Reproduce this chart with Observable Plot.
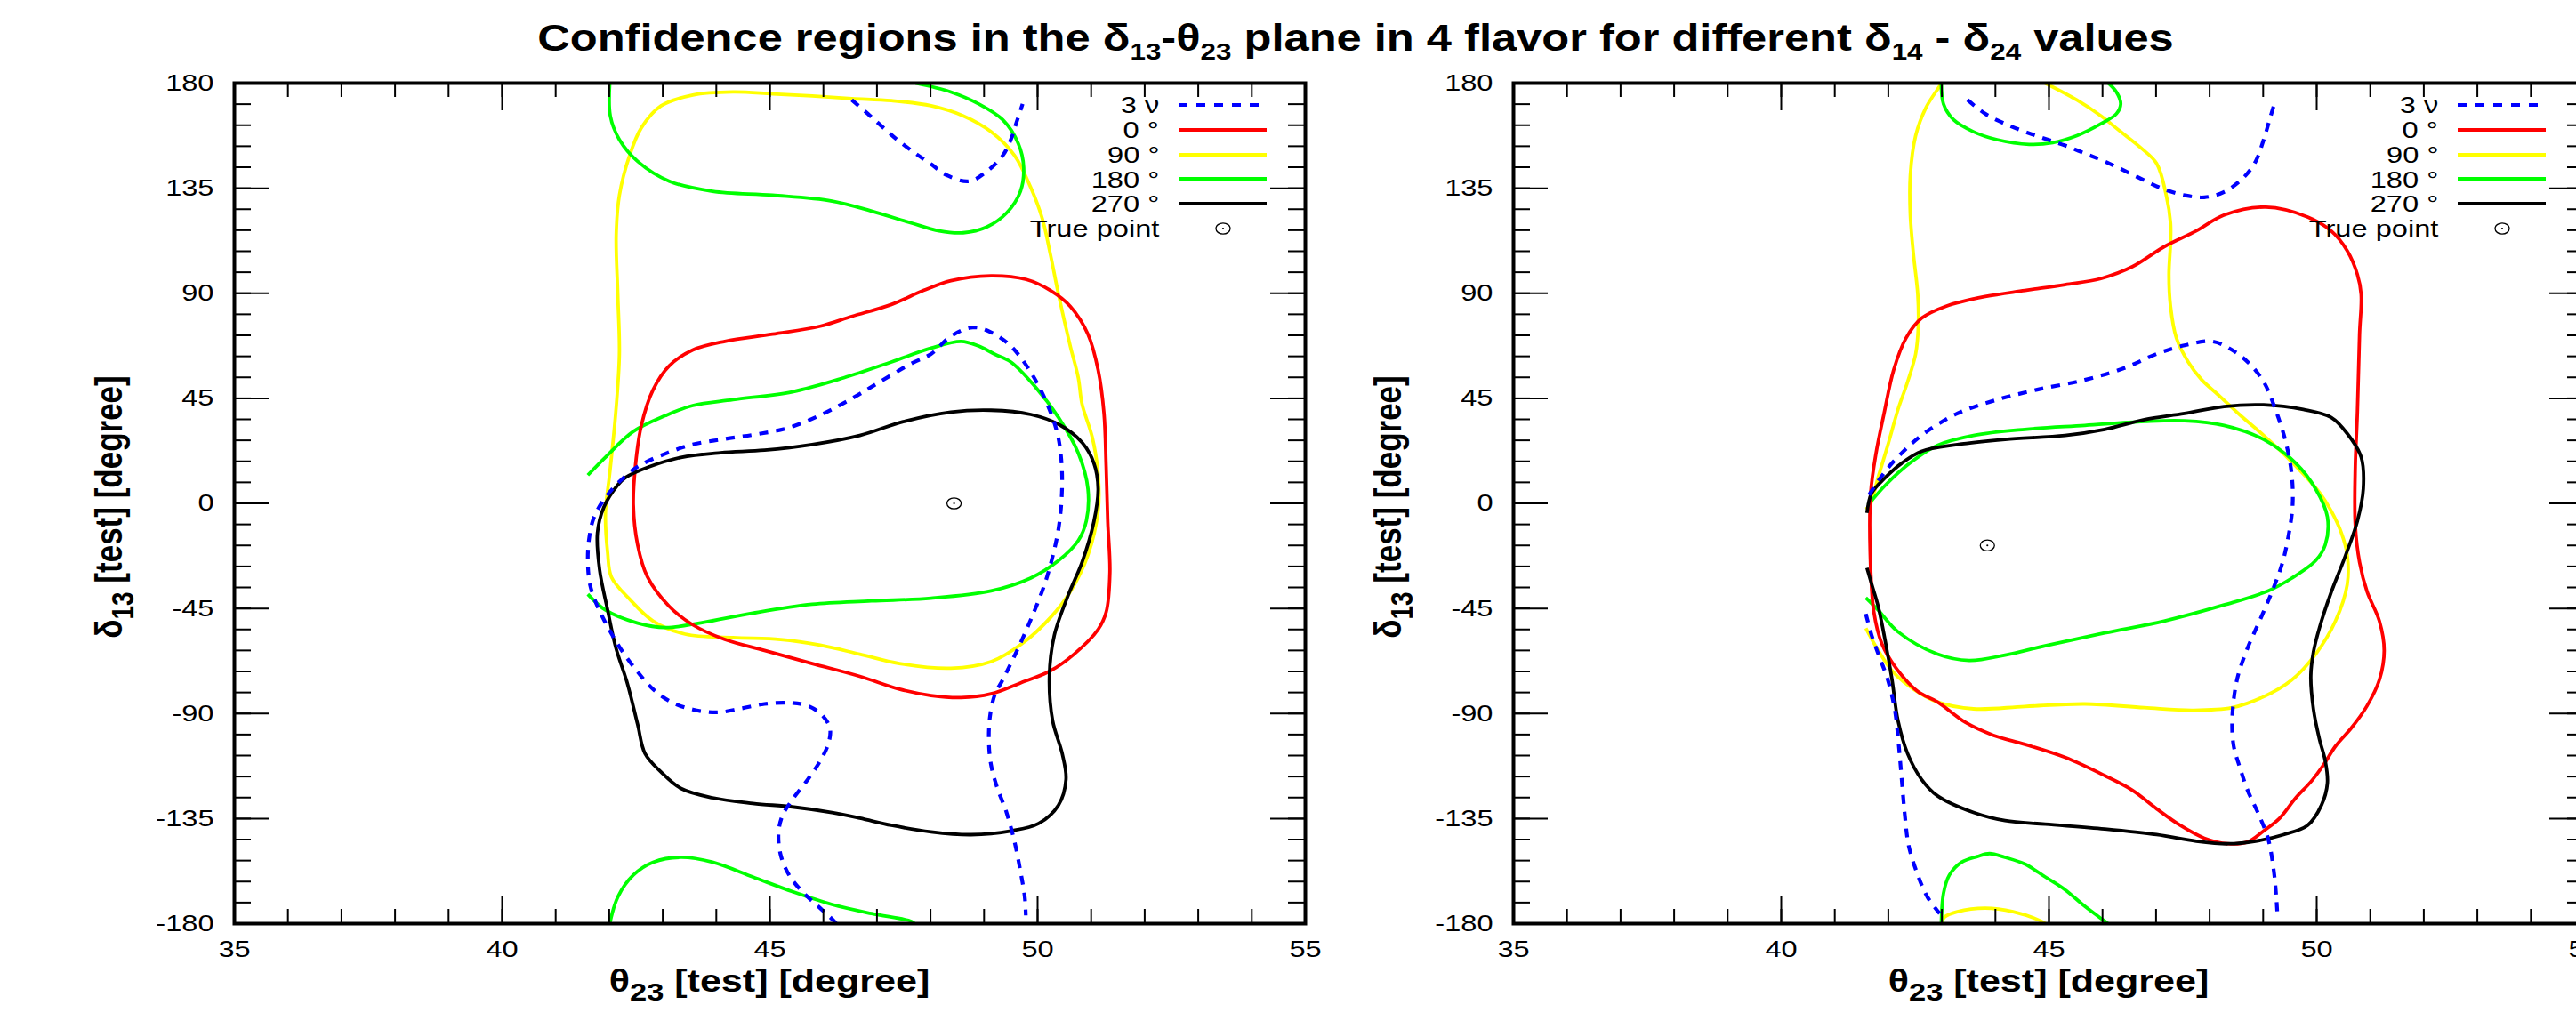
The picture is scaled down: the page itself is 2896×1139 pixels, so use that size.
<!DOCTYPE html>
<html>
<head>
<meta charset="utf-8">
<script src="https://cdn.jsdelivr.net/npm/d3@7"></script>
<script src="https://cdn.jsdelivr.net/npm/@observablehq/plot@0.6"></script>
<style>
  html, body { margin: 0; padding: 0; background: #fff; }
  body { width: 2896px; height: 1139px; overflow: hidden; position: relative; font-family: "Liberation Sans", Arial, Helvetica, sans-serif; color: #000; }
  .panel { position: absolute; top: 60px; width: 1500px; height: 1079px; }
  .title { position: absolute; top: 22px; left: 1524px; white-space: nowrap; font-weight: bold; font-size: 42px; line-height: 42px; transform: translateX(-50%) scaleX(1.205); z-index: 2; }
  .title sub { font-size: 0.62em; vertical-align: -0.38em; line-height: 0; }
  .xlab, .ylab { position: absolute; white-space: nowrap; font-weight: bold; font-size: 35px; line-height: 35px; z-index: 2; }
  .xlab { transform: translateX(-50%) scaleX(1.23); }
  .ylab { transform: translate(-50%, -50%) scaleX(1.23) rotate(-90deg); }
  .xlab sub, .ylab sub { font-size: 0.8em; vertical-align: -0.36em; line-height: 0; }
  .leg { position: absolute; height: 28px; line-height: 28px; font-size: 26.5px; white-space: nowrap; z-index: 2; }
  .leg .t { position: absolute; right: 0; top: 0; transform: scaleX(1.23); transform-origin: right center; }
  .legsym { position: absolute; z-index: 2; }
</style>
</head>
<body>
<div class="title">Confidence regions in the δ<sub>13</sub>-θ<sub>23</sub> plane in 4 flavor for different δ<sub>14</sub> - δ<sub>24</sub> values</div>
<div id="left" class="panel" style="left:0px"></div>
<div id="right" class="panel" style="left:1438px"></div>
<script>
// ---------- axes / ticks ----------
const xDomain = [35, 55];
const yDomain = [-180, 180];
const xTicks = [35, 40, 45, 50, 55];
const yTicks = [-180, -135, -90, -45, 0, 45, 90, 135, 180];
const xMinor = d3.range(35, 56, 1);
const yMinor = d3.range(-180, 181, 9);

// ---------- legend ----------
const legendLabels = ["3 \u03bd", "0 \u00b0", "90 \u00b0", "180 \u00b0", "270 \u00b0", "True point"];
const legendColors = ["#0000ff", "#ff0000", "#ffff00", "#00ff00", "#000000", null];

// ---------- left panel (theta23, delta13) ----------
const L_3nu_top = [[46.53,172.8],[46.83,166.9],[47.12,160.9],[47.42,155.0],[47.72,149.9],[48.01,145.3],[48.31,140.5],[48.72,138.0],[49.05,142.2],[49.35,149.0],[49.50,155.8],[49.61,163.5],[49.72,171.1]];
const L_3nu_main = [[46.24,-180],[46.20,-178.9],[45.94,-173.4],[45.64,-167.1],[45.38,-160.0],[45.21,-151.3],[45.16,-141.9],[45.23,-134.0],[45.42,-126.9],[45.71,-118.2],[45.94,-110.3],[46.10,-102.4],[46.12,-96.1],[45.97,-90.6],[45.71,-86.7],[45.34,-85.4],[44.90,-85.9],[44.45,-87.9],[44.01,-89.5],[43.56,-88.3],[43.16,-85.1],[42.82,-79.6],[42.49,-71.0],[42.19,-61.5],[41.97,-52.8],[41.78,-44.1],[41.64,-34.7],[41.60,-25.2],[41.62,-15.8],[41.71,-6.3],[41.90,1.6],[42.16,8.6],[42.53,15.7],[43.05,21.3],[43.56,25.2],[44.16,27.6],[44.75,29.6],[45.34,32.3],[45.94,37.8],[46.53,44.9],[47.05,52.0],[47.64,59.9],[48.01,64.0],[48.38,71.6],[48.79,75.4],[49.13,73.3],[49.50,67.4],[49.87,56.3],[50.16,43.6],[50.37,29.9],[50.45,16.3],[50.45,2.7],[50.39,-10.9],[50.28,-22.8],[50.13,-34.7],[49.90,-48.3],[49.64,-61.9],[49.35,-75.5],[49.20,-82.0],[49.11,-91.4],[49.09,-102.4],[49.13,-111.9],[49.24,-121.4],[49.42,-132.4],[49.57,-145.0],[49.68,-157.6],[49.76,-168.6],[49.78,-176.5]];
const L_0 = [[49.13,97.5],[48.38,95.4],[47.87,91.2],[47.27,85.2],[46.53,80.1],[45.94,75.9],[45.05,72.5],[44.16,69.4],[43.56,65.7],[43.12,58.9],[42.82,48.7],[42.60,33.4],[42.49,16.3],[42.45,-0.7],[42.53,-17.7],[42.71,-31.3],[43.12,-44.1],[43.56,-52.0],[44.16,-58.3],[44.90,-63.0],[45.79,-68.6],[46.68,-74.1],[47.42,-79.6],[48.01,-82.3],[48.57,-83.2],[49.13,-81.6],[49.65,-77.2],[50.24,-71.7],[50.68,-64.6],[51.13,-54.0],[51.28,-46.6],[51.35,-29.6],[51.31,-7.9],[51.28,15.7],[51.24,38.5],[51.13,57.2],[50.94,72.5],[50.61,84.4],[50.24,91.2],[49.79,95.9]];
const L_90 = [[44.31,176.2],[43.56,174.9],[42.97,170.3],[42.60,160.9],[42.38,149.0],[42.19,132.0],[42.13,115.0],[42.16,89.5],[42.19,64.0],[42.12,38.4],[42.01,13.0],[41.93,-4.1],[41.97,-21.1],[42.04,-31.5],[42.38,-41.0],[42.82,-50.4],[43.42,-56.0],[44.31,-57.5],[45.20,-58.3],[45.94,-60.7],[46.68,-64.6],[47.42,-68.6],[48.38,-70.6],[49.13,-67.8],[49.72,-59.9],[50.24,-48.9],[50.61,-37.8],[50.94,-22.1],[51.13,-3.2],[51.13,12.6],[51.02,28.4],[50.83,42.5],[50.76,53.8],[50.61,67.4],[50.39,89.5],[50.24,106.5],[50.09,121.8],[49.87,135.4],[49.57,149.0],[49.13,159.2],[48.61,166.0],[48.01,170.3],[47.27,172.5],[46.53,173.4],[45.79,174.5],[45.05,175.4]];
const L_180_top = [[42.01,180],[42.02,166.0],[42.19,155.8],[42.53,146.5],[43.12,138.0],[43.93,133.7],[45.05,132.0],[46.16,129.5],[46.90,125.2],[47.64,120.1],[48.16,116.7],[48.61,115.9],[49.05,118.4],[49.42,124.4],[49.68,133.7],[49.74,143.9],[49.64,154.1],[49.35,164.3],[48.90,171.1],[48.38,176.2],[47.72,180]];
const L_180_mid = [[41.60,12.1],[41.93,19.8],[42.45,30.8],[43.05,37.6],[43.56,41.9],[44.31,44.4],[45.42,47.8],[46.38,53.8],[47.27,60.6],[48.01,66.5],[48.57,69.4],[48.90,67.4],[49.20,63.9],[49.50,60.6],[49.94,50.4],[50.39,36.8],[50.76,21.5],[50.94,6.2],[50.91,-7.5],[50.76,-15.9],[50.39,-24.5],[49.87,-32.0],[49.13,-37.5],[48.01,-40.6],[46.90,-41.8],[45.79,-43.2],[44.68,-47.0],[43.71,-51.2],[43.05,-53.2],[42.53,-51.3],[41.93,-45.7],[41.60,-38.9]];
const L_180_bot = [[42.01,-180],[42.16,-168.6],[42.45,-159.2],[42.82,-153.7],[43.34,-151.6],[43.93,-153.7],[44.68,-160.0],[45.42,-166.3],[46.16,-171.8],[46.90,-175.7],[47.64,-179.0],[47.70,-180]];
const L_270 = [[42.30,11.0],[42.75,15.7],[43.34,19.7],[44.08,21.7],[44.90,22.8],[45.79,25.2],[46.68,29.1],[47.49,35.0],[48.38,39.1],[49.13,39.9],[49.87,38.1],[50.39,33.9],[50.83,26.1],[51.05,17.3],[51.13,6.3],[51.05,-7.9],[50.83,-25.2],[50.57,-39.4],[50.31,-56.7],[50.22,-74.1],[50.28,-93.0],[50.46,-107.2],[50.53,-118.2],[50.39,-129.2],[50.02,-137.1],[49.50,-140.3],[48.76,-141.9],[48.01,-140.7],[47.27,-137.9],[46.68,-134.8],[46.16,-132.4],[45.42,-130.0],[44.68,-128.5],[43.93,-126.1],[43.34,-122.1],[42.97,-115.1],[42.67,-107.2],[42.53,-94.6],[42.34,-77.2],[42.12,-61.5],[41.97,-45.7],[41.82,-28.4],[41.78,-12.6],[41.90,-1.6],[42.16,7.9]];
const L_true = [[48.44, 0]];

// ---------- right panel ----------
const R_3nu_top = [[43.48,172.8],[43.81,166.9],[44.18,162.6],[44.55,159.2],[44.93,156.2],[45.30,153.3],[45.67,149.9],[46.04,146.5],[46.41,142.5],[46.78,138.4],[47.15,134.5],[47.53,132.0],[47.90,131.1],[48.27,133.4],[48.64,139.7],[48.86,146.5],[49.01,155.8],[49.12,164.3],[49.22,172.0]];
const R_3nu_main = [[41.64,3.6],[41.81,9.6],[42.10,18.0],[42.62,29.1],[43.29,38.5],[44.03,44.4],[44.78,48.7],[45.67,52.9],[46.41,58.0],[47.01,64.0],[47.53,67.7],[48.05,69.4],[48.42,65.7],[48.71,60.6],[49.01,52.1],[49.23,40.2],[49.42,26.5],[49.53,13.0],[49.55,-0.7],[49.47,-14.3],[49.35,-26.2],[49.16,-38.1],[48.94,-50.0],[48.71,-61.9],[48.53,-73.8],[48.45,-84.0],[48.42,-94.6],[48.45,-104.0],[48.57,-113.5],[48.71,-122.9],[48.90,-132.4],[49.09,-143.4],[49.20,-157.6],[49.25,-170.2],[49.27,-178.1]];
const R_3nu_low = [[41.58,-47.3],[41.69,-56.7],[41.84,-66.2],[41.99,-75.6],[42.12,-88.3],[42.19,-102.4],[42.25,-118.2],[42.31,-134.0],[42.38,-146.6],[42.55,-159.2],[42.73,-168.6],[42.96,-175.7]];
const R_0 = [[49.05,126.9],[48.27,123.5],[47.75,116.7],[47.15,109.9],[46.56,101.4],[45.97,96.3],[45.30,93.7],[44.55,91.2],[43.81,88.6],[43.07,84.4],[42.62,79.3],[42.33,70.8],[42.10,57.2],[41.92,38.5],[41.77,21.5],[41.67,4.4],[41.66,-21.1],[41.73,-46.6],[41.88,-60.2],[42.14,-70.4],[42.55,-80.6],[42.92,-85.1],[43.44,-93.8],[43.96,-99.3],[44.55,-103.2],[45.30,-108.8],[46.04,-116.6],[46.56,-122.9],[47.01,-130.8],[47.45,-137.9],[47.90,-143.4],[48.34,-145.8],[48.71,-145.0],[49.01,-140.3],[49.31,-134.8],[49.61,-126.1],[49.90,-119.0],[50.13,-111.9],[50.35,-104.0],[50.65,-96.1],[50.94,-86.7],[51.17,-75.6],[51.26,-63.0],[51.17,-50.4],[50.94,-37.8],[50.80,-25.2],[50.72,-9.5],[50.72,15.7],[50.76,39.4],[50.80,72.5],[50.83,89.5],[50.76,98.0],[50.57,108.2],[50.27,116.7],[49.83,122.7]];
const R_90_a = [[42.99,180],[42.96,178.8],[42.70,169.4],[42.51,157.5],[42.41,140.5],[42.41,123.5],[42.47,106.5],[42.55,89.5],[42.56,75.9],[42.51,64.0],[42.36,52.1],[42.18,40.2],[41.99,24.9],[41.81,11.2],[41.66,-0.7],[41.58,-2.5]];
const R_90_b = [[41.58,-53.5],[41.81,-63.0],[42.10,-72.5],[42.47,-79.6],[42.92,-85.1],[43.59,-88.0],[44.55,-87.0],[45.67,-85.9],[46.78,-87.5],[47.68,-88.6],[48.42,-87.5],[49.01,-82.8],[49.53,-75.7],[49.98,-64.6],[50.35,-50.4],[50.57,-34.7],[50.57,-22.1],[50.46,-12.6],[50.27,-3.2],[50.05,4.7],[49.75,12.6],[49.38,21.3],[49.01,29.1],[48.57,37.8],[48.20,45.7],[47.85,53.0],[47.60,60.6],[47.38,70.8],[47.27,84.4],[47.24,98.0],[47.27,111.6],[47.27,120.1],[47.19,132.0],[47.01,145.6],[46.71,152.4],[46.34,159.2],[45.97,166.0],[45.52,172.8],[44.93,180]];
const R_90_c = [[42.99,-180],[43.05,-177.2],[43.29,-174.9],[43.81,-173.4],[44.33,-174.9],[44.85,-178.9],[44.93,-180]];
const R_180_top = [[42.99,180],[43.03,171.1],[43.22,164.3],[43.59,159.2],[44.03,155.8],[44.63,153.8],[45.07,154.5],[45.52,157.5],[45.97,162.6],[46.26,166.9],[46.34,171.1],[46.26,176.2],[46.11,180]];
const R_180_mid = [[41.62,-0.7],[41.95,7.9],[42.40,17.2],[42.92,24.9],[43.59,29.1],[44.55,31.7],[45.67,33.4],[46.78,35.1],[47.53,35.4],[48.27,33.4],[49.01,27.4],[49.61,17.2],[49.98,6.2],[50.20,-5.8],[50.16,-17.7],[49.98,-24.5],[49.53,-32.1],[49.09,-37.5],[48.27,-43.5],[47.15,-50.4],[46.04,-55.5],[44.93,-61.0],[44.18,-65.0],[43.51,-67.3],[42.92,-64.6],[42.18,-55.0],[41.81,-45.7],[41.58,-40.4]];
const R_180_bot = [[42.99,-180],[43.03,-167.1],[43.14,-159.2],[43.37,-153.7],[43.66,-151.3],[43.89,-150.0],[44.18,-151.6],[44.55,-154.5],[44.93,-160.0],[45.30,-165.5],[45.67,-172.6],[46.04,-178.9],[46.10,-180]];
const R_270 = [[41.60,-4.1],[41.69,4.4],[41.95,11.2],[42.25,17.2],[42.62,22.3],[43.29,25.2],[44.18,27.4],[45.30,29.1],[46.04,31.7],[46.78,35.9],[47.53,38.5],[48.27,41.5],[49.01,42.2],[49.75,40.2],[50.27,36.8],[50.57,29.9],[50.83,19.8],[50.87,6.2],[50.76,-7.5],[50.53,-22.8],[50.27,-38.1],[50.05,-53.4],[49.94,-63.6],[49.89,-73.8],[49.94,-88.3],[50.05,-100.9],[50.16,-110.3],[50.20,-119.8],[50.09,-129.2],[49.83,-137.9],[49.38,-141.9],[48.86,-144.7],[48.34,-145.8],[47.75,-144.7],[47.01,-141.9],[46.04,-139.5],[44.93,-137.4],[44.18,-135.9],[43.59,-132.4],[42.92,-125.3],[42.62,-118.2],[42.36,-107.2],[42.18,-93.0],[42.07,-75.7],[41.95,-59.9],[41.81,-44.1],[41.69,-34.7],[41.60,-27.6]];
const R_true = [[43.85, -18]];

// ---------- styling (not data) ----------
const COLOR = {nu: "#0000ff", d0: "#ff0000", d90: "#ffff00", d180: "#00ff00", d270: "#000000"};
const STRETCH = 1.23;
const PANEL_TOP = 60;
const W = 1500, H = 1079, ML = 263, MR = 33, MT = 33, MB = 101;
const innerW = W - ML - MR, innerH = H - MT - MB;

const ellipseSymbol = {
  draw(ctx) {
    const rx = 8, ry = 6.2, k = 0.5523;
    ctx.moveTo(rx, 0);
    ctx.bezierCurveTo(rx, ry * k, rx * k, ry, 0, ry);
    ctx.bezierCurveTo(-rx * k, ry, -rx, ry * k, -rx, 0);
    ctx.bezierCurveTo(-rx, -ry * k, -rx * k, -ry, 0, -ry);
    ctx.bezierCurveTo(rx * k, -ry, rx, -ry * k, rx, 0);
    ctx.closePath();
  }
};

function lineMark(data, color, closed, dashed) {
  return Plot.line(data, {
    x: d => d[0], y: d => d[1],
    stroke: color, strokeWidth: dashed ? 4.2 : 3.8,
    strokeDasharray: dashed ? "10,9" : null,
    strokeLinecap: "butt",
    curve: closed ? "catmull-rom-closed" : "catmull-rom",
    clip: true
  });
}

function stretchText(svg, sx) {
  svg.querySelectorAll('g[aria-label$="tick label"] text').forEach(t => {
    const tr = t.getAttribute("transform");
    if (tr) t.setAttribute("transform", tr + ` scale(${sx},1)`);
    else {
      const x = +(t.getAttribute("x") || 0), y = +(t.getAttribute("y") || 0);
      t.removeAttribute("x"); t.removeAttribute("y");
      t.setAttribute("transform", `translate(${x},${y}) scale(${sx},1)`);
    }
  });
}

function panel(el, curves, truePt) {
  const marks = [
    ...curves.map(c => lineMark(c.data, c.color, c.closed, c.dashed)),
    Plot.dot(truePt, {x: d => d[0], y: d => d[1], symbol: ellipseSymbol, r: 8, stroke: "black", strokeWidth: 1.3, fill: "none"}),
    Plot.dot(truePt, {x: d => d[0], y: d => d[1], r: 1.1, fill: "black", stroke: "none"}),
    // ticks (inward, mirrored on all four sides)
    Plot.ruleX(xMinor, {x: d => d, insetTop: innerH - 16, strokeWidth: 2}),
    Plot.ruleX(xTicks, {x: d => d, insetTop: innerH - 31, strokeWidth: 2}),
    Plot.ruleX(xMinor, {x: d => d, insetBottom: innerH - 16, strokeWidth: 2}),
    Plot.ruleX(xTicks, {x: d => d, insetBottom: innerH - 31, strokeWidth: 2}),
    Plot.ruleY(yMinor, {y: d => d, insetRight: innerW - 19, strokeWidth: 2}),
    Plot.ruleY(yTicks, {y: d => d, insetRight: innerW - 39, strokeWidth: 2}),
    Plot.ruleY(yMinor, {y: d => d, insetLeft: innerW - 19, strokeWidth: 2}),
    Plot.ruleY(yTicks, {y: d => d, insetLeft: innerW - 39, strokeWidth: 2}),
    Plot.frame({stroke: "black", strokeWidth: 4}),
    Plot.axisX(xTicks, {anchor: "bottom", tickSize: 0, tickPadding: 19, tickFormat: d => `${d}`, label: null}),
    Plot.axisY(yTicks, {anchor: "left", tickSize: 0, tickPadding: 23, tickFormat: d => `${d}`, label: null})
  ];
  const svg = Plot.plot({
    width: W, height: H,
    marginLeft: ML, marginRight: MR, marginTop: MT, marginBottom: MB,
    x: {domain: xDomain}, y: {domain: yDomain},
    style: {fontFamily: '"Liberation Sans", Arial, sans-serif', fontSize: "26.5px", background: "transparent", maxWidth: "none", color: "black", overflow: "visible"},
    marks
  });
  stretchText(svg, STRETCH);
  el.appendChild(svg);
}

const leftCurves = [
  {data: L_90, color: COLOR.d90, closed: true},
  {data: L_180_top, color: COLOR.d180},
  {data: L_180_mid, color: COLOR.d180},
  {data: L_180_bot, color: COLOR.d180},
  {data: L_0, color: COLOR.d0, closed: true},
  {data: L_270, color: COLOR.d270, closed: true},
  {data: L_3nu_top, color: COLOR.nu, dashed: true},
  {data: L_3nu_main, color: COLOR.nu, dashed: true}
];
const rightCurves = [
  {data: R_90_a, color: COLOR.d90},
  {data: R_90_b, color: COLOR.d90},
  {data: R_90_c, color: COLOR.d90},
  {data: R_180_top, color: COLOR.d180},
  {data: R_180_mid, color: COLOR.d180},
  {data: R_180_bot, color: COLOR.d180},
  {data: R_0, color: COLOR.d0, closed: true},
  {data: R_270, color: COLOR.d270},
  {data: R_3nu_top, color: COLOR.nu, dashed: true},
  {data: R_3nu_main, color: COLOR.nu, dashed: true},
  {data: R_3nu_low, color: COLOR.nu, dashed: true}
];

panel(document.getElementById("left"), leftCurves, L_true);
panel(document.getElementById("right"), rightCurves, R_true);

// ---------- axis titles & legends (HTML overlays) ----------
function addOverlays(panelLeft) {
  const axL = panelLeft + ML;            // left edge of plot frame (page px)
  const frameTop = PANEL_TOP + MT;       // top of frame (page px)
  const xl = document.createElement("div");
  xl.className = "xlab";
  xl.innerHTML = "θ<sub>23</sub> [test] [degree]";
  xl.style.left = (axL + innerW / 2) + "px";
  xl.style.top = "1085px";
  document.body.appendChild(xl);

  const yl = document.createElement("div");
  yl.className = "ylab";
  yl.innerHTML = "δ<sub>13</sub> [test] [degree]";
  yl.style.left = (panelLeft + 122) + "px";
  yl.style.top = (frameTop + innerH / 2 + 4) + "px";
  document.body.appendChild(yl);

  legendLabels.forEach((lab, i) => {
    const yc = 118 + i * 27.75;
    const textRight = axL + 1040;
    const row = document.createElement("div");
    row.className = "leg";
    row.style.left = (textRight - 300) + "px";
    row.style.width = "300px";
    row.style.top = (yc - 13.7) + "px";
    row.innerHTML = `<span class="t">${lab}</span>`;
    document.body.appendChild(row);

    const ns = "http://www.w3.org/2000/svg";
    const s = document.createElementNS(ns, "svg");
    s.setAttribute("width", 100); s.setAttribute("height", 24);
    s.setAttribute("class", "legsym");
    s.style.left = (textRight + 22) + "px";
    s.style.top = (yc - 12) + "px";
    if (legendColors[i]) {
      const ln = document.createElementNS(ns, "line");
      ln.setAttribute("x1", 0); ln.setAttribute("x2", 99);
      ln.setAttribute("y1", 12); ln.setAttribute("y2", 12);
      ln.setAttribute("stroke", legendColors[i]);
      ln.setAttribute("stroke-width", 4.2);
      if (i === 0) ln.setAttribute("stroke-dasharray", "10,10");
      s.appendChild(ln);
    } else {
      const e = document.createElementNS(ns, "ellipse");
      e.setAttribute("cx", 50); e.setAttribute("cy", 12); e.setAttribute("rx", 8); e.setAttribute("ry", 6.2);
      e.setAttribute("fill", "none"); e.setAttribute("stroke", "black"); e.setAttribute("stroke-width", 1.3);
      s.appendChild(e);
      const c = document.createElementNS(ns, "circle");
      c.setAttribute("cx", 50); c.setAttribute("cy", 12); c.setAttribute("r", 1.1);
      s.appendChild(c);
    }
    document.body.appendChild(s);
  });
}
addOverlays(0);
addOverlays(1438);
</script>
</body>
</html>
